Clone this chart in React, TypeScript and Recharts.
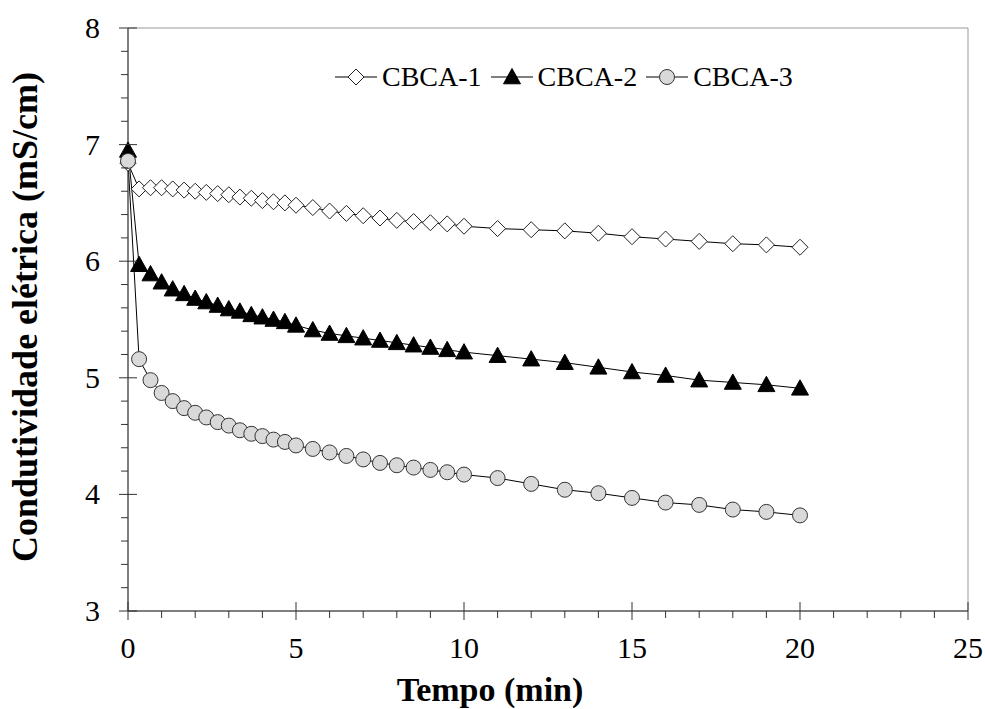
import React from 'react';
import { LineChart, Line, XAxis, YAxis, Legend, ReferenceArea } from 'recharts';

const times = [0, 0.33, 0.67, 1, 1.33, 1.67, 2, 2.33, 2.67, 3, 3.33, 3.67, 4, 4.33, 4.67, 5, 5.5, 6, 6.5, 7, 7.5, 8, 8.5, 9, 9.5, 10, 11, 12, 13, 14, 15, 16, 17, 18, 19, 20];
const cbca1 = [6.84, 6.62, 6.63, 6.63, 6.62, 6.61, 6.6, 6.59, 6.58, 6.57, 6.55, 6.54, 6.52, 6.51, 6.5, 6.48, 6.46, 6.43, 6.41, 6.39, 6.37, 6.35, 6.34, 6.33, 6.32, 6.3, 6.28, 6.27, 6.26, 6.24, 6.21, 6.19, 6.17, 6.15, 6.14, 6.12];
const cbca2 = [6.95, 5.97, 5.89, 5.82, 5.76, 5.72, 5.68, 5.65, 5.62, 5.59, 5.57, 5.54, 5.52, 5.5, 5.48, 5.45, 5.41, 5.38, 5.36, 5.34, 5.32, 5.3, 5.28, 5.26, 5.24, 5.22, 5.19, 5.16, 5.13, 5.09, 5.05, 5.02, 4.98, 4.96, 4.94, 4.91];
const cbca3 = [6.86, 5.16, 4.98, 4.87, 4.8, 4.74, 4.7, 4.66, 4.62, 4.59, 4.55, 4.52, 4.5, 4.47, 4.45, 4.42, 4.39, 4.36, 4.33, 4.3, 4.27, 4.25, 4.23, 4.21, 4.19, 4.17, 4.14, 4.09, 4.04, 4.01, 3.97, 3.93, 3.91, 3.87, 3.85, 3.82];

const xTicks = [0, 1, 2, 3, 4, 5, 6, 7, 8, 9, 10, 11, 12, 13, 14, 15, 16, 17, 18, 19, 20, 21, 22, 23, 24, 25];
const yTicks = [3, 3.2, 3.4, 3.6, 3.8, 4, 4.2, 4.4, 4.6, 4.8, 5, 5.2, 5.4, 5.6, 5.8, 6, 6.2, 6.4, 6.6, 6.8, 7, 7.2, 7.4, 7.6, 7.8, 8];

const data = times.map((t, i) => ({ t, c1: cbca1[i], c2: cbca2[i], c3: cbca3[i] }));

const FONT = '"Liberation Serif", "Times New Roman", serif';
const AXIS = '#333';

const isWhole = (v: number) => Math.abs(v - Math.round(v)) < 1e-6;

function Diamond({ cx, cy, s = 8 }: { cx: number; cy: number; s?: number }) {
  return <path d={`M${cx},${cy - s}L${cx + s},${cy}L${cx},${cy + s}L${cx - s},${cy}Z`} fill="#fff" stroke="#222" strokeWidth={1} />;
}
function Triangle({ cx, cy, s = 8.5 }: { cx: number; cy: number; s?: number }) {
  return <path d={`M${cx},${cy - s}L${cx + s},${cy + s * 0.8}L${cx - s},${cy + s * 0.8}Z`} fill="#000" stroke="#000" strokeWidth={1} />;
}
function Circle({ cx, cy, r = 7.5 }: { cx: number; cy: number; r?: number }) {
  return <circle cx={cx} cy={cy} r={r} fill="#d9d9d9" stroke="#333" strokeWidth={1} />;
}

const XTick = ({ x, y, payload }: any) => {
  const v = payload.value;
  const major = v % 5 === 0;
  return (
    <g>
      <line x1={x} x2={x} y1={major ? y - 9 : y} y2={major ? y + 9 : y + 7} stroke={AXIS} />
      {major && (
        <text x={x} y={y + 47} textAnchor="middle" fontSize={30} fontFamily={FONT} fill="#000">
          {v}
        </text>
      )}
    </g>
  );
};

const YTick = ({ x, y, payload }: any) => {
  const v = payload.value;
  const major = isWhole(v);
  return (
    <g>
      <line x1={major ? x - 9 : x - 7} x2={major ? x + 9 : x} y1={y} y2={y} stroke={AXIS} />
      {major && (
        <text x={x - 28} y={y + 10} textAnchor="end" fontSize={30} fontFamily={FONT} fill="#000">
          {Math.round(v)}
        </text>
      )}
    </g>
  );
};

const XTitle = () => (
  <text x={490} y={701} textAnchor="middle" fontSize={34} fontWeight="bold" fontFamily={FONT} fill="#000">
    Tempo (min)
  </text>
);

const YTitle = () => (
  <text x={37} y={317} transform="rotate(-90 37 317)" textAnchor="middle" fontSize={36} fontWeight="bold" fontFamily={FONT} fill="#000">
    Condutividade elétrica (mS/cm)
  </text>
);

const legendItems = [
  { name: 'CBCA-1', Icon: Diamond },
  { name: 'CBCA-2', Icon: Triangle },
  { name: 'CBCA-3', Icon: Circle },
];

const LegendContent = () => (
  <div style={{ display: 'flex', alignItems: 'center' }}>
    {legendItems.map(({ name, Icon }) => (
      <div key={name} style={{ display: 'flex', alignItems: 'center', marginRight: 9 }}>
        <svg width={42} height={22}>
          <line x1={0} x2={42} y1={11} y2={11} stroke="#000" />
          <Icon cx={21} cy={11} />
        </svg>
        <span style={{ fontFamily: FONT, fontSize: 28, marginLeft: 5, lineHeight: '30px' }}>{name}</span>
      </div>
    ))}
  </div>
);

export default function App() {
  return (
    <div style={{ position: 'absolute', left: 0, top: 0, background: '#fff' }}>
      <LineChart width={985} height={709} data={data} margin={{ top: 28, right: 17, bottom: 0, left: 0 }}>
        <ReferenceArea x1={0} x2={25} y1={3} y2={8} fill="none" stroke="#999" strokeWidth={1} />
        <XAxis
          dataKey="t"
          type="number"
          domain={[0, 25]}
          ticks={xTicks}
          interval={0}
          height={98}
          tickSize={0}
          tickMargin={0}
          tickLine={false}
          axisLine={{ stroke: AXIS }}
          tick={<XTick />}
          label={<XTitle />}
        />
        <YAxis
          type="number"
          domain={[3, 8]}
          ticks={yTicks}
          interval={0}
          width={128}
          tickSize={0}
          tickMargin={0}
          tickLine={false}
          axisLine={{ stroke: AXIS }}
          tick={<YTick />}
          label={<YTitle />}
        />
        <Legend
          layout="horizontal"
          align="center"
          verticalAlign="middle"
          content={<LegendContent />}
          wrapperStyle={{ position: 'absolute', top: 62, left: 335, width: 'auto' }}
        />
        <Line dataKey="c1" name="CBCA-1" stroke="#000" strokeWidth={1} isAnimationActive={false} activeDot={false}
          dot={(p: any) => <Diamond key={`a${p.index}`} cx={p.cx} cy={p.cy} />} />
        <Line dataKey="c2" name="CBCA-2" stroke="#000" strokeWidth={1} isAnimationActive={false} activeDot={false}
          dot={(p: any) => <Triangle key={`b${p.index}`} cx={p.cx} cy={p.cy} />} />
        <Line dataKey="c3" name="CBCA-3" stroke="#000" strokeWidth={1} isAnimationActive={false} activeDot={false}
          dot={(p: any) => <Circle key={`c${p.index}`} cx={p.cx} cy={p.cy} />} />
      </LineChart>
    </div>
  );
}
